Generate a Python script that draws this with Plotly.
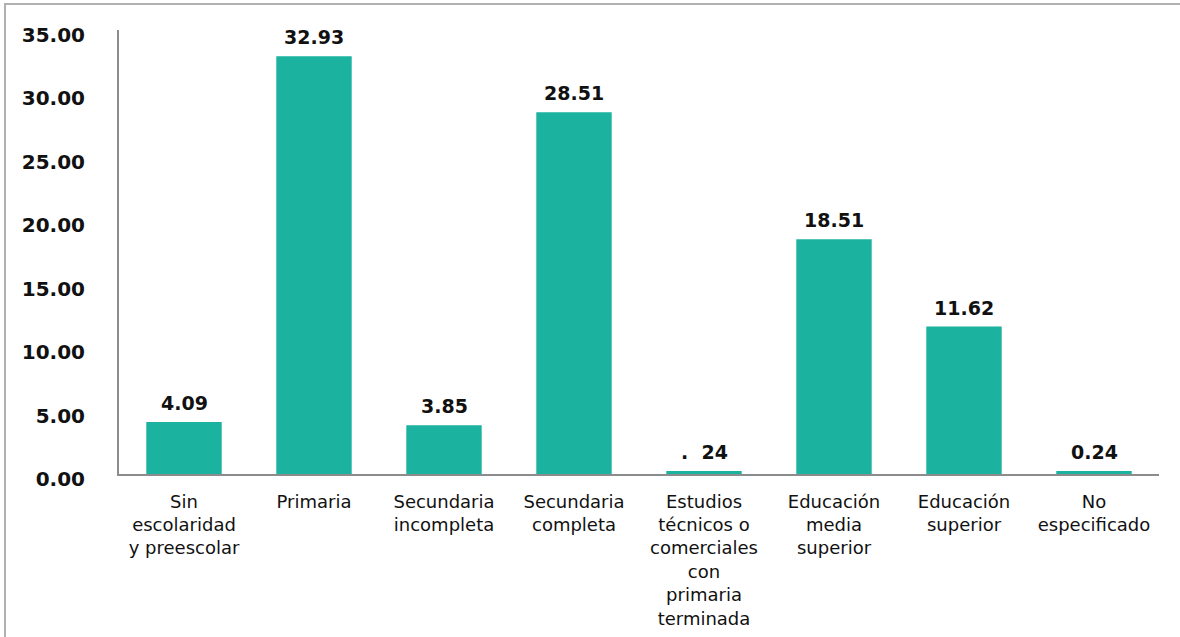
import plotly.graph_objects as go

categories = [
    "Sin<br>escolaridad<br>y preescolar",
    "Primaria",
    "Secundaria<br>incompleta",
    "Secundaria<br>completa",
    "Estudios<br>técnicos o<br>comerciales<br>con<br>primaria<br>terminada",
    "Educación<br>media<br>superior",
    "Educación<br>superior",
    "No<br>especificado",
]
values = [4.09, 32.93, 3.85, 28.51, 0.24, 18.51, 11.62, 0.24]
value_labels = ["4.09", "32.93", "3.85", "28.51", ".  24", "18.51", "11.62", "0.24"]
y_ticks = [0, 5, 10, 15, 20, 25, 30, 35]

FONT = "DejaVu Sans"
BAR = "#1BB29F"

fig = go.Figure(
    go.Bar(
        x=categories,
        y=values,
        marker=dict(color=BAR, line=dict(width=0)),
        hoverinfo="skip",
    )
)

for c, v, t in zip(categories, values, value_labels):
    fig.add_annotation(
        x=c, y=v, text=t, showarrow=False,
        yanchor="bottom", yshift=6,
        font=dict(family=FONT, size=19, color="#111111", weight="bold"),
    )

W, H = 1180, 637
L, R, T, B = 119, 21, 30, 163
pw, ph = W - L - R, H - T - B

fig.update_layout(
    width=W,
    height=H,
    margin=dict(l=L, r=R, t=T, b=B, autoexpand=False),
    paper_bgcolor="white",
    plot_bgcolor="white",
    bargap=0.42,
    showlegend=False,
    font=dict(family=FONT, color="#111111"),
)
fig.update_xaxes(
    automargin=False,
    showline=True,
    linecolor="#8c8c8c",
    linewidth=2,
    showgrid=False,
    ticks="",
    tickangle=0,
    ticklabelstandoff=10,
    tickfont=dict(family=FONT, size=18, color="#111111"),
)
fig.update_yaxes(
    automargin=False,
    range=[0, 35],
    tickvals=y_ticks,
    tickformat=".2f",
    showline=True,
    linecolor="#8c8c8c",
    linewidth=2,
    showgrid=False,
    zeroline=False,
    ticks="",
    ticklabelstandoff=28,
    ticklabelshift=5,
    tickfont=dict(family=FONT, size=20, color="#111111", weight="bold"),
)

# outer chart border (partially visible in the reference)
x0 = (5 - L) / pw
y1 = (H - B - 4) / ph
fig.add_shape(
    type="rect", xref="paper", yref="paper",
    x0=x0, x1=1.5, y0=-1.0, y1=y1,
    line=dict(color="#b0b0b0", width=2),
    fillcolor="rgba(0,0,0,0)", layer="below",
)

fig.write_html(
    "out.html",
    config={"displayModeBar": False},
    post_script="document.body.style.margin='0';",
)
